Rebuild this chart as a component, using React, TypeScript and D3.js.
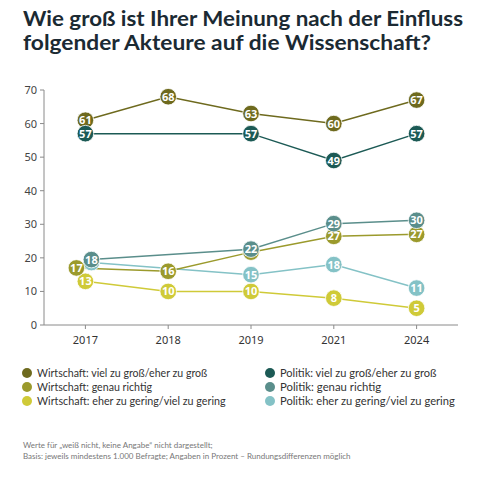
import React from "react";
import * as d3 from "d3";

const years = ["2017", "2018", "2019", "2021", "2024"];
const yTicks = [0, 10, 20, 30, 40, 50, 60, 70];

const seriesNames = [
  "Wirtschaft: viel zu groß/eher zu groß",
  "Wirtschaft: genau richtig",
  "Wirtschaft: eher zu gering/viel zu gering",
  "Politik: viel zu groß/eher zu groß",
  "Politik: genau richtig",
  "Politik: eher zu gering/viel zu gering",
];

const wirtschaftGross = [61, 68, 63, 60, 67];
const wirtschaftGenau = [17, 16, 22, 27, 27];
const wirtschaftGering = [13, 10, 10, 8, 5];
const politikGross = [57, null, 57, 49, 57];
const politikGenau = [18, null, 22, 29, 30];
const politikGering = [18, null, 15, 18, 11];

const colors = ["#6e6a1e", "#9b9a2c", "#cfca38", "#1c5a55", "#5a8e8b", "#84c2c6"];

// small label nudges (dx, dy in px) to avoid overlapping markers
const nudges: [number, number][][] = [
  [[0, 0], [0, 0], [0, 0], [0, 0], [0, 0]],
  [[-9, 0], [0, 0], [0, 1], [0, 2], [0, 0]],
  [[0, 0], [0, 0], [0, 0], [0, 0], [0, 0]],
  [[0, 0], [0, 0], [0, 0], [0, 0], [0, 0]],
  [[6, -5], [0, 0], [0, -2], [0, -4], [0, -4]],
  [[6, -2], [0, 0], [0, 0], [0, 0], [0, 0]],
];

const allSeries = [wirtschaftGross, wirtschaftGenau, wirtschaftGering, politikGross, politikGenau, politikGering];
const drawOrder = [2, 5, 1, 4, 0, 3];

export default function App() {
  const x = d3.scalePoint<string>().domain(years).range([44, 458]).padding(0.5);
  const y = d3.scaleLinear().domain([0, 70]).range([325, 90]);
  const font = "'Noto Sans', sans-serif";
  const narrow = "Lato, sans-serif";

  return (
    <svg width={500} height={480} style={{ position: "absolute", left: 0, top: 0, background: "#fff" }}>
      <text x={23} y={26} fontFamily={narrow} fontWeight={700} fontSize={21} fill="#1b2a33" textLength={440} lengthAdjust="spacingAndGlyphs">
        Wie groß ist Ihrer Meinung nach der Einfluss
      </text>
      <text x={23} y={50} fontFamily={narrow} fontWeight={700} fontSize={21} fill="#1b2a33" textLength={408} lengthAdjust="spacingAndGlyphs">
        folgender Akteure auf die Wissenschaft?
      </text>

      {/* axes */}
      <line x1={44} x2={44} y1={y(70)} y2={y(0)} stroke="#8a8a8a" strokeWidth={1} />
      <line x1={44} x2={458} y1={y(0)} y2={y(0)} stroke="#8a8a8a" strokeWidth={1} />
      {yTicks.map((t) => (
        <g key={t}>
          <line x1={40} x2={44} y1={y(t)} y2={y(t)} stroke="#8a8a8a" />
          <text x={37} y={y(t) + 4} textAnchor="end" fontFamily={font} fontSize={11} fill="#444">
            {t}
          </text>
        </g>
      ))}
      {years.map((yr) => (
        <g key={yr}>
          <line x1={x(yr)} x2={x(yr)} y1={325} y2={329} stroke="#8a8a8a" />
          <text x={x(yr)} y={344} textAnchor="middle" fontFamily={font} fontSize={11} fill="#333">
            {yr}
          </text>
        </g>
      ))}

      {/* lines */}
      {drawOrder.map((si) => {
        const pts = allSeries[si]
          .map((v, i) => (v == null ? null : [x(years[i])! + nudges[si][i][0], y(v) + nudges[si][i][1]]))
          .filter((p) => p != null) as [number, number][];
        const line = d3.line();
        return <path key={"l" + si} d={line(pts)!} fill="none" stroke={colors[si]} strokeWidth={1.5} />;
      })}

      {/* markers */}
      {drawOrder.map((si) => (
        <g key={"m" + si}>
          {allSeries[si].map((v, i) =>
            v == null ? null : (
              <g key={i} transform={`translate(${x(years[i])! + nudges[si][i][0]},${y(v) + nudges[si][i][1]})`}>
                <circle r={8.3} fill={colors[si]} stroke="#fff" strokeWidth={0.8} />
                <text y={4} textAnchor="middle" fontFamily={font} fontWeight={700} fontSize={11} fill="#fff">
                  {v}
                </text>
              </g>
            )
          )}
        </g>
      ))}

      {/* legend */}
      {seriesNames.map((n, i) => {
        const col = Math.floor(i / 3);
        const row = i % 3;
        const lx = col === 0 ? 27 : 270;
        const ly = 373 + row * 14;
        return (
          <g key={n}>
            <circle cx={lx} cy={ly} r={5} fill={colors[i]} />
            <text x={lx + 10} y={ly + 4} fontFamily={narrow} fontSize={11.5} fill="#333" textLength={n.length * 4.6} lengthAdjust="spacingAndGlyphs">
              {n}
            </text>
          </g>
        );
      })}

      {/* footer */}
      <text x={23} y={448} fontFamily={narrow} fontSize={8} fill="#777">
        Werte für „weiß nicht, keine Angabe“ nicht dargestellt;
      </text>
      <text x={23} y={459} fontFamily={narrow} fontSize={8} fill="#777">
        Basis: jeweils mindestens 1.000 Befragte; Angaben in Prozent – Rundungsdifferenzen möglich
      </text>
    </svg>
  );
}
